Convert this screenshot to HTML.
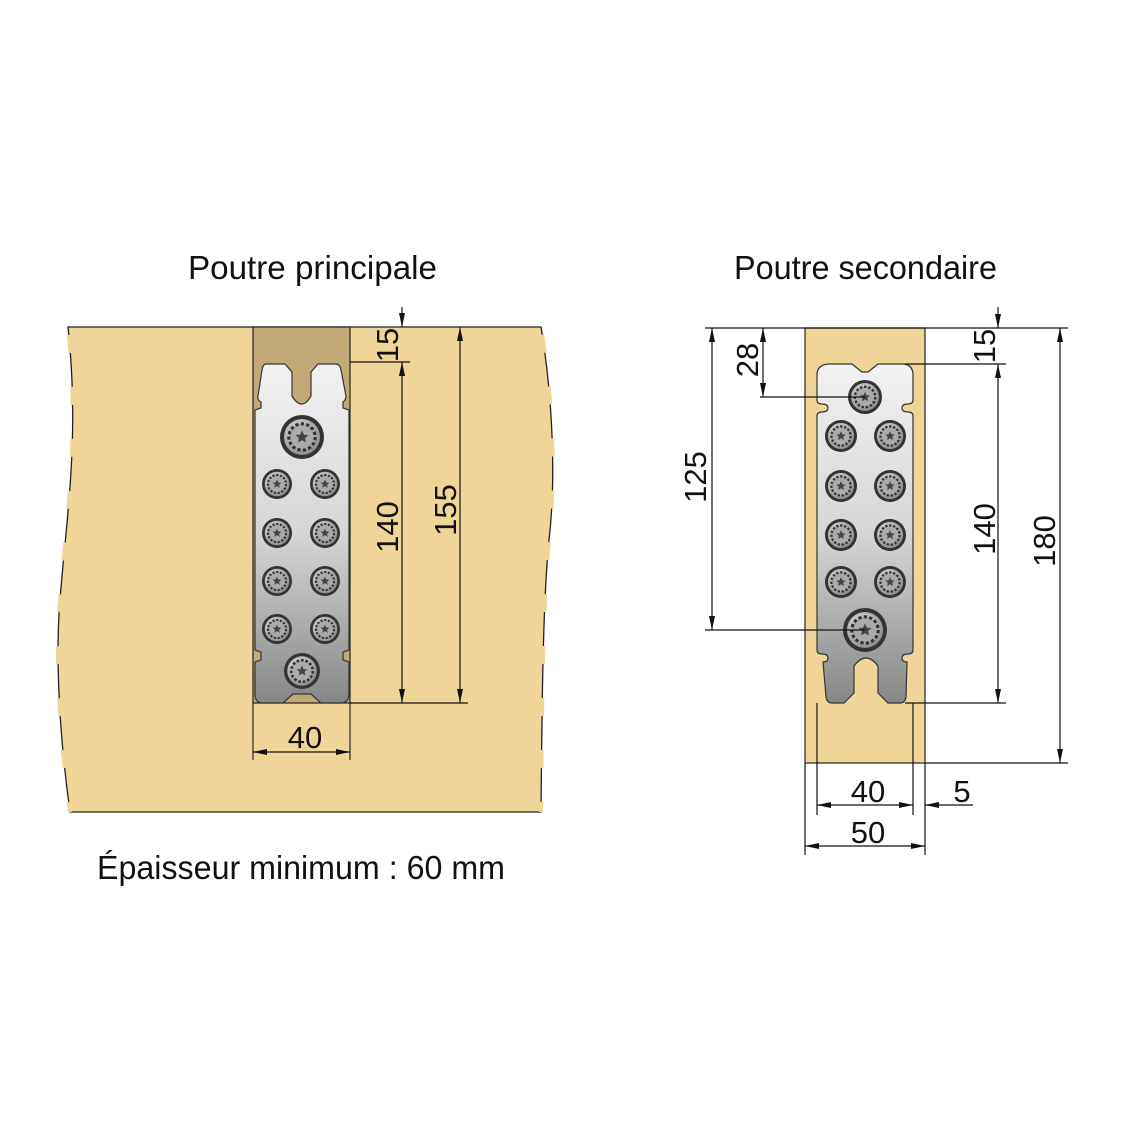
<!DOCTYPE html>
<html><head><meta charset="utf-8"><style>
html,body{margin:0;padding:0;background:#fff}
svg{display:block}
text{font-family:"Liberation Sans",sans-serif;fill:#111}
</style></head><body>
<svg width="1140" height="1140" viewBox="0 0 1140 1140" xmlns="http://www.w3.org/2000/svg">
<defs>
<linearGradient id="pl" x1="0" y1="0" x2="0" y2="1">
<stop offset="0" stop-color="#f2f2f2"/><stop offset="0.5" stop-color="#d6d6d6"/><stop offset="1" stop-color="#858787"/>
</linearGradient>
<radialGradient id="sc" cx="0.4" cy="0.35" r="0.7">
<stop offset="0" stop-color="#e8e8e8"/><stop offset="1" stop-color="#888"/>
</radialGradient>
<marker id="ae" markerWidth="14" markerHeight="8" refX="14" refY="4" orient="auto" markerUnits="userSpaceOnUse"><path d="M0,1 L14,4 L0,7 Z" fill="#111"/></marker>
<marker id="as" markerWidth="14" markerHeight="8" refX="0" refY="4" orient="auto" markerUnits="userSpaceOnUse"><path d="M14,1 L0,4 L14,7 Z" fill="#111"/></marker>
<g id="s">
<circle r="1" fill="#333"/><circle r="0.82" fill="url(#sc)"/><circle r="0.6" fill="#aaa" stroke="#333" stroke-width="0.14" stroke-dasharray="0.15 0.1"/>
<path d="M0,-0.3 L0.09,-0.1 L0.29,-0.09 L0.14,0.05 L0.18,0.25 L0,0.14 L-0.18,0.25 L-0.14,0.05 L-0.29,-0.09 L-0.09,-0.1 Z" fill="#444"/>
</g>
</defs>

<text x="188" y="279" font-size="33" textLength="249" lengthAdjust="spacingAndGlyphs">Poutre principale</text>
<text x="734" y="279" font-size="33" textLength="263" lengthAdjust="spacingAndGlyphs">Poutre secondaire</text>
<text x="97" y="879" font-size="33" textLength="408" lengthAdjust="spacingAndGlyphs">Épaisseur minimum : 60 mm</text>

<!-- left beam -->
<path d="M68,327 L541,327 C553,400 556,480 549,540 C543,600 542,700 541,812 L70,812 C60,740 55,660 60,600 C66,520 80,440 68,327 Z" fill="#efd698" stroke="#222" stroke-width="1.3"/>
<g stroke="#efd698" stroke-width="4" stroke-dasharray="18 34" fill="none">
<path d="M68,327 C80,440 66,520 60,600 C55,660 60,740 70,812" stroke-dashoffset="-60"/>
<path d="M541,327 C553,400 556,480 549,540 C543,600 542,700 541,812" stroke-dashoffset="-60"/>
</g>
<rect x="253" y="327" width="97" height="376" fill="#c2aa78" stroke="#222" stroke-width="1.2"/>
<line x1="253" y1="703" x2="253" y2="760" stroke="#222" stroke-width="1.2"/>
<line x1="350" y1="703" x2="350" y2="760" stroke="#222" stroke-width="1.2"/>
<path d="M266,364 L285,364 L292,372 L292,396 Q302,412 311,396 L311,372 L318,364 L336,364 Q340,364 341,370 L346,396 Q346,400 343,402 L343,408 L349,410 L349,650 L343,652 L343,660 L349,662 L349,694 Q349,703 340,703 L321,703 L311,694 L293,694 L283,703 L263,703 Q255,703 255,694 L255,662 L261,660 L261,652 L255,650 L255,410 L261,408 L261,402 Q257,400 258,396 L262,370 Q263,364 266,364 Z" fill="url(#pl)" stroke="#333" stroke-width="1.2"/>
<use href="#s" transform="translate(302,437) scale(22)"/>
<use href="#s" transform="translate(302,671) scale(18)"/>
<g>
<use href="#s" transform="translate(277,484) scale(15)"/><use href="#s" transform="translate(325,484) scale(15)"/>
<use href="#s" transform="translate(277,533) scale(15)"/><use href="#s" transform="translate(325,533) scale(15)"/>
<use href="#s" transform="translate(277,581) scale(15)"/><use href="#s" transform="translate(325,581) scale(15)"/>
<use href="#s" transform="translate(277,629) scale(15)"/><use href="#s" transform="translate(325,629) scale(15)"/>
</g>
<g stroke="#111" stroke-width="1.2" fill="none">
<line x1="350" y1="362" x2="410" y2="362"/>
<line x1="350" y1="703" x2="468" y2="703"/>
<line x1="402" y1="307" x2="402" y2="327" marker-end="url(#ae)"/>
<line x1="402" y1="362" x2="402" y2="703" marker-start="url(#as)" marker-end="url(#ae)"/>
<line x1="460" y1="327" x2="460" y2="703" marker-start="url(#as)" marker-end="url(#ae)"/>
<line x1="253" y1="752" x2="350" y2="752" marker-start="url(#as)" marker-end="url(#ae)"/>
</g>
<text transform="translate(398,345) rotate(-90)" font-size="31" text-anchor="middle">15</text>
<text transform="translate(398,527) rotate(-90)" font-size="31" text-anchor="middle">140</text>
<text transform="translate(456,510) rotate(-90)" font-size="31" text-anchor="middle">155</text>
<text x="305" y="748" font-size="31" text-anchor="middle">40</text>

<!-- right beam -->
<rect x="805" y="328" width="120" height="435" fill="#efd698" stroke="#222" stroke-width="1.2"/>
<path d="M830,364 L852,364 L862,372 L868,372 L878,364 L902,364 Q913,364 913,375 L913,400 Q913,404 908,404 Q902,404 902,408 Q902,412 908,412 Q913,412 913,416 L913,650 Q913,654 908,654 Q902,654 902,658 Q902,662 907,662 L906,697 Q905,703 900,703 L888,703 L878,693 L878,666 Q866,650 854,666 L854,693 L844,703 L832,703 Q827,703 826,697 L823,662 Q828,662 828,658 Q828,654 822,654 Q817,654 817,650 L817,416 Q817,412 822,412 Q828,412 828,408 Q828,404 822,404 Q817,404 817,400 L817,375 Q817,364 830,364 Z" fill="url(#pl)" stroke="#333" stroke-width="1.2"/>
<use href="#s" transform="translate(865,397) scale(17)"/>
<use href="#s" transform="translate(865,630) scale(22)"/>
<use href="#s" transform="translate(841,436) scale(16)"/><use href="#s" transform="translate(890,436) scale(16)"/>
<use href="#s" transform="translate(841,486) scale(16)"/><use href="#s" transform="translate(890,486) scale(16)"/>
<use href="#s" transform="translate(841,535) scale(16)"/><use href="#s" transform="translate(890,535) scale(16)"/>
<use href="#s" transform="translate(841,582) scale(16)"/><use href="#s" transform="translate(890,582) scale(16)"/>
<g stroke="#111" stroke-width="1.2" fill="none">
<line x1="705" y1="328" x2="1068" y2="328"/>
<line x1="925" y1="763" x2="1068" y2="763"/>
<line x1="760" y1="397" x2="865" y2="397"/>
<line x1="705" y1="630" x2="865" y2="630"/>
<line x1="905" y1="364" x2="1006" y2="364"/>
<line x1="905" y1="703" x2="1006" y2="703"/>
<line x1="763" y1="328" x2="763" y2="397" marker-start="url(#as)" marker-end="url(#ae)"/>
<line x1="712" y1="328" x2="712" y2="630" marker-start="url(#as)" marker-end="url(#ae)"/>
<line x1="998" y1="307" x2="998" y2="328" marker-end="url(#ae)"/>
<line x1="998" y1="364" x2="998" y2="703" marker-start="url(#as)" marker-end="url(#ae)"/>
<line x1="1060" y1="328" x2="1060" y2="763" marker-start="url(#as)" marker-end="url(#ae)"/>
<line x1="805" y1="763" x2="805" y2="855"/>
<line x1="925" y1="763" x2="925" y2="855"/>
<line x1="817" y1="703" x2="817" y2="815"/>
<line x1="913" y1="703" x2="913" y2="815"/>
<line x1="817" y1="805" x2="913" y2="805" marker-start="url(#as)" marker-end="url(#ae)"/>
<line x1="973" y1="805" x2="925" y2="805" marker-end="url(#ae)"/>
<line x1="805" y1="846" x2="925" y2="846" marker-start="url(#as)" marker-end="url(#ae)"/>
</g>
<text transform="translate(758,360) rotate(-90)" font-size="31" text-anchor="middle">28</text>
<text transform="translate(706,477) rotate(-90)" font-size="31" text-anchor="middle">125</text>
<text transform="translate(995,346) rotate(-90)" font-size="31" text-anchor="middle">15</text>
<text transform="translate(995,529) rotate(-90)" font-size="31" text-anchor="middle">140</text>
<text transform="translate(1055,541) rotate(-90)" font-size="31" text-anchor="middle">180</text>
<text x="868" y="802" font-size="31" text-anchor="middle">40</text>
<text x="962" y="802" font-size="31" text-anchor="middle">5</text>
<text x="868" y="843" font-size="31" text-anchor="middle">50</text>
</svg>
</body></html>
